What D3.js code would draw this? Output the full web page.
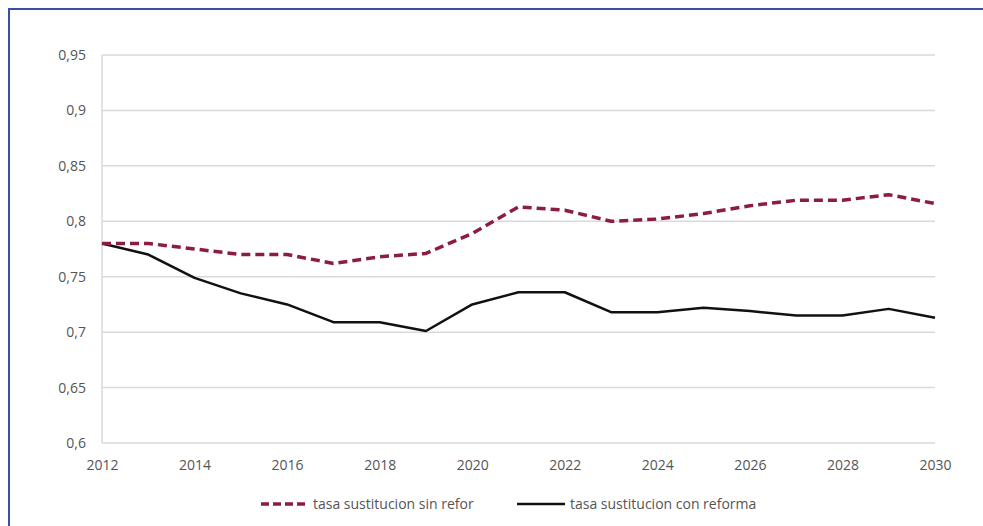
<!DOCTYPE html>
<html>
<head>
<meta charset="utf-8">
<script src="https://cdn.jsdelivr.net/npm/d3@7"></script>
<style>
    body { margin: 0; background: #fff; }
    svg text { font-family: "Open Sans", sans-serif; fill: #555; }
</style>
</head>
<body>
<div id="chart"></div>
<script>
// years on the x axis
var years = d3.range(2012, 2031);
// tasa sustitucion sin reforma (dashed)
var sinReforma = [0.780, 0.780, 0.775, 0.770, 0.770, 0.762, 0.768, 0.771, 0.789, 0.813,
    0.810, 0.800, 0.802, 0.807, 0.814, 0.819, 0.819, 0.824, 0.816];
// tasa sustitucion con reforma (solid)
var conReforma = [0.780, 0.770, 0.749, 0.735, 0.725, 0.709, 0.709, 0.701, 0.725, 0.736,
    0.736, 0.718, 0.718, 0.722, 0.719, 0.715, 0.715, 0.721, 0.713];
var yTicks = [0.6, 0.65, 0.7, 0.75, 0.8, 0.85, 0.9, 0.95];
var xTicks = d3.range(2012, 2031, 2);
var legendLabels = ["tasa sustitucion sin refor", "tasa sustitucion con reforma"];

var width = 983, height = 526;
var margin = {top: 55, right: 48, bottom: 83, left: 102};

var svg = d3.select("#chart").append("svg")
    .attr("width", width)
    .attr("height", height);

// blue frame (only top and left visible)
svg.append("path")
    .attr("d", "M9," + height + "V9H" + width)
    .attr("fill", "none")
    .attr("stroke", "#3b4ea3")
    .attr("stroke-width", 2);

var xScale = d3.scaleLinear()
    .domain([2012, 2030])
    .range([margin.left, width - margin.right]);

var yScale = d3.scaleLinear()
    .domain([0.6, 0.95])
    .range([height - margin.bottom, margin.top]);

var fmt = function (d) { return String(d).replace(".", ","); };

// gridlines
svg.append("g")
    .selectAll("line")
    .data(yTicks)
    .enter()
    .append("line")
    .attr("x1", xScale(2012))
    .attr("x2", xScale(2030))
    .attr("y1", function (d) { return yScale(d); })
    .attr("y2", function (d) { return yScale(d); })
    .attr("stroke", "#d9d9d9")
    .attr("stroke-width", 1.5);

// left axis line
svg.append("line")
    .attr("x1", xScale(2012)).attr("x2", xScale(2012))
    .attr("y1", yScale(0.95)).attr("y2", yScale(0.6))
    .attr("stroke", "#d9d9d9")
    .attr("stroke-width", 1.5);

// y axis
var yAxis = svg.append("g")
    .attr("transform", "translate(" + margin.left + ",0)")
    .call(d3.axisLeft(yScale).tickValues(yTicks).tickFormat(fmt).tickSize(0).tickPadding(16));
yAxis.select(".domain").remove();
yAxis.selectAll("text")
    .attr("font-size", 14)
    .attr("font-family", "Open Sans, sans-serif")
    .attr("fill", "#555");

// x axis
var xAxis = svg.append("g")
    .attr("transform", "translate(0," + (height - margin.bottom) + ")")
    .call(d3.axisBottom(xScale).tickValues(xTicks).tickFormat(d3.format("d")).tickSize(0).tickPadding(17));
xAxis.select(".domain").remove();
xAxis.selectAll("text")
    .attr("font-size", 14)
    .attr("font-family", "Open Sans, sans-serif")
    .attr("fill", "#555");

var line = d3.line()
    .x(function (d, i) { return xScale(years[i]); })
    .y(function (d) { return yScale(d); });

svg.append("path")
    .datum(conReforma)
    .attr("d", line)
    .attr("fill", "none")
    .attr("stroke", "#111")
    .attr("stroke-width", 2.5)
    .attr("stroke-linejoin", "round");

svg.append("path")
    .datum(sinReforma)
    .attr("d", line)
    .attr("fill", "none")
    .attr("stroke", "#8c1c45")
    .attr("stroke-width", 3.5)
    .attr("stroke-dasharray", "9,5")
    .attr("stroke-linejoin", "round");

// legend
var legendY = 504;
var legend = svg.append("g");

legend.append("line")
    .attr("x1", 261).attr("x2", 308)
    .attr("y1", legendY).attr("y2", legendY)
    .attr("stroke", "#8c1c45")
    .attr("stroke-width", 3.5)
    .attr("stroke-dasharray", "8,4");
legend.append("text")
    .attr("x", 313).attr("y", legendY)
    .attr("dy", "0.35em")
    .attr("font-size", 14)
    .text(legendLabels[0]);

legend.append("line")
    .attr("x1", 517).attr("x2", 565)
    .attr("y1", legendY).attr("y2", legendY)
    .attr("stroke", "#111")
    .attr("stroke-width", 2.5);
legend.append("text")
    .attr("x", 570).attr("y", legendY)
    .attr("dy", "0.35em")
    .attr("font-size", 14)
    .text(legendLabels[1]);
</script>
</body>
</html>
